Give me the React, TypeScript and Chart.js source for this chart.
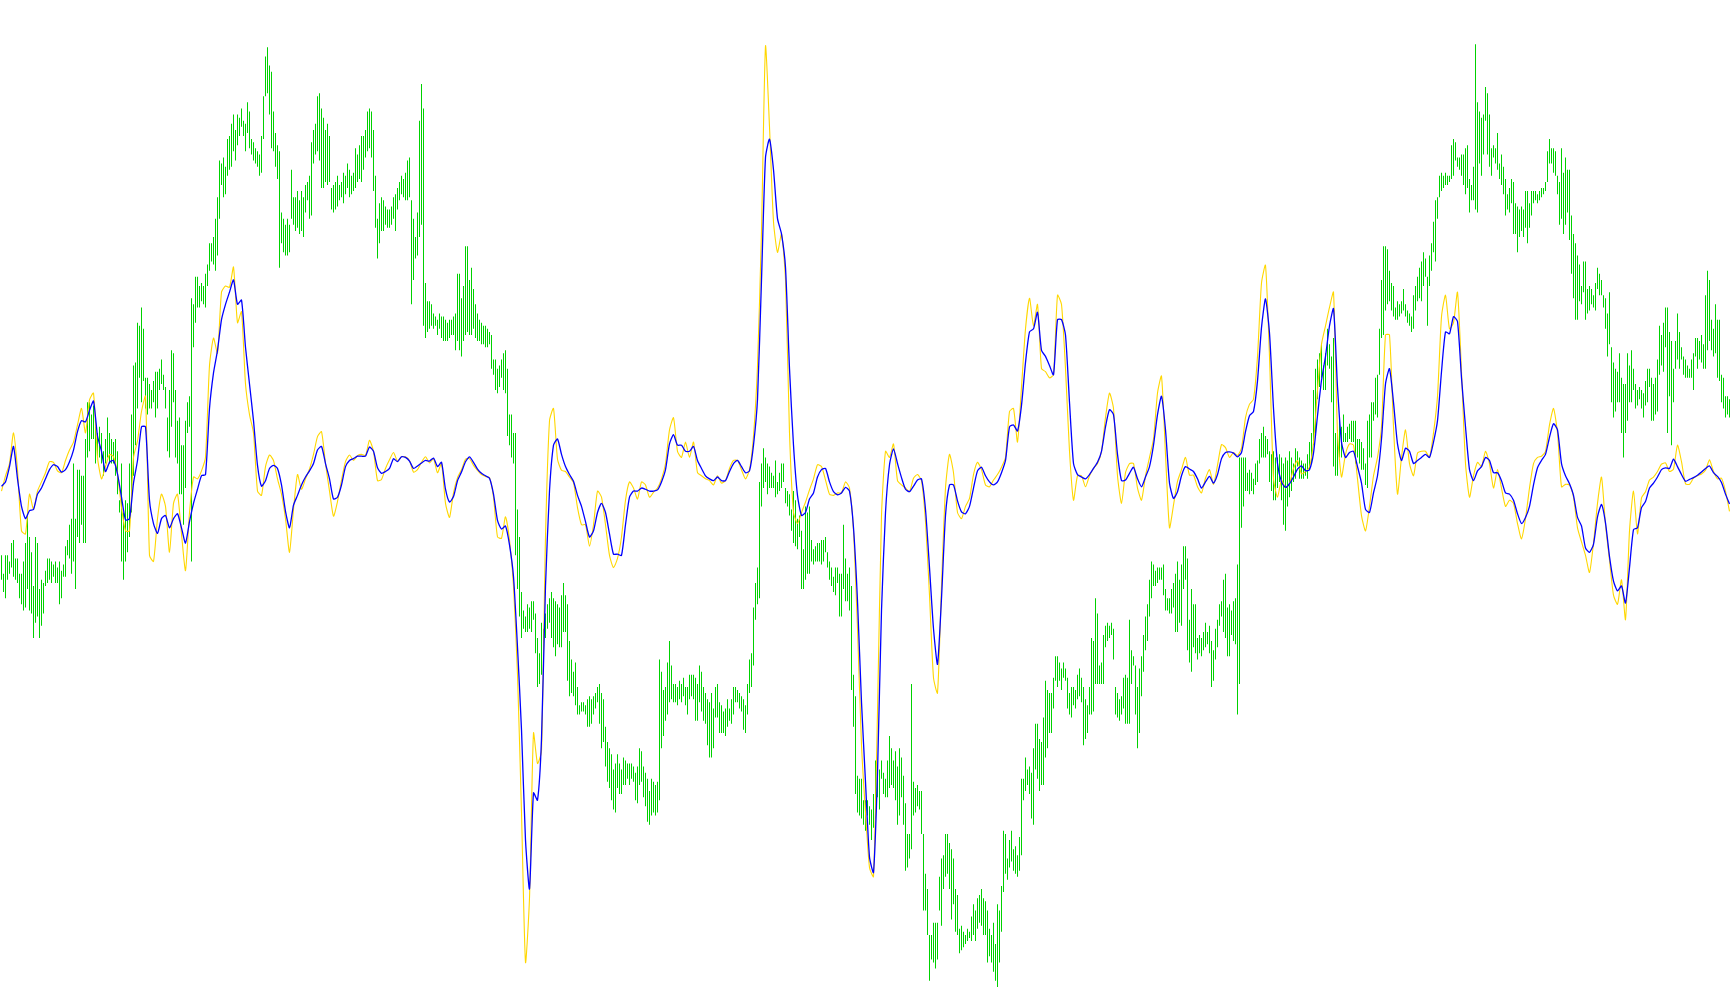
import { useEffect, useRef } from "react";
import { Chart, registerables } from "chart.js";

Chart.register(...registerables);

// Price bars: upper end (highs) and lower end (lows), in the chart's inverted price units
const highs = [
  // part 1
  850,880,850,850,860,830,825,855,855,880,
  880,860,830,785,820,845,900,820,830,905,
  890,895,875,855,855,860,865,860,870,860,
  875,865,835,825,800,790,700,790,710,710,
  720,720,660,600,600,620,605,640,650,640,
  650,680,660,625,650,660,665,660,680,760,
  700,780,760,765,700,620,540,535,470,475,
  445,480,560,560,570,580,565,550,550,545,
  530,555,575,625,580,515,520,580,630,625,
  670,670,630,600,590,430,440,
  // part 2
  395,395,410,405,410,390,375,340,340,330,
  300,265,205,210,200,215,170,165,145,130,
  155,130,135,120,140,145,110,125,170,175,
  185,190,195,165,100,35,20,50,60,125,
  160,180,190,290,300,310,300,310,220,265,
  265,255,270,255,265,245,240,230,175,155,
  145,100,95,120,135,155,145,165,250,245,
  240,230,245,240,225,230,210,220,230,225,
  185,195,180,165,165,155,125,120,125,155,
  230,300,275,265,270,280,
  // part 3
  285,285,280,265,260,250,240,230,235,225,
  205,200,270,300,330,290,140,80,120,405,
  435,435,440,455,460,465,455,460,460,465,
  470,465,465,460,455,390,390,430,410,345,
  345,400,380,415,440,455,465,470,475,475,
  480,485,490,530,530,545,540,530,520,515,
  545,620,620,650,650,775,820,910,940,950,
  930,935,925,925,945,985,1010,960,970,945,
  930,920,910,920,925,930,935,915,895,915,
  930,990,1020,1040,1025,1065,
  // part 4
  1095,1090,1090,1095,1085,1080,1085,1080,1075,1065,
  1060,1075,1085,1130,1155,1165,1175,1200,1190,1175,
  1190,1200,1180,1185,1190,1190,1190,1195,1205,1195,
  1165,1170,1195,1205,1215,1235,1215,1220,1225,1220,
  1020,1040,1070,1065,1025,990,1030,1060,1060,1065,
  1055,1060,1050,1065,1065,1045,1045,1045,1050,1060,
  1030,1040,1065,1075,1085,1090,1075,1100,1065,1060,
  1090,1095,1105,1100,1085,1100,1085,1065,1065,1070,
  1075,1080,1085,1095,1060,1020,1010,935,895,870,
  730,700,675,690,700,705,715,
  // part 5
  720,695,730,715,700,700,740,745,750,775,
  745,760,790,785,810,840,770,780,770,825,
  840,835,830,830,825,825,820,845,860,870,
  885,870,870,880,880,800,855,880,870,900,
  1045,1080,1210,1215,1215,1250,1250,1250,1260,1265,
  1240,1185,1205,1200,1185,1205,1215,1185,1145,1165,
  1185,1170,1195,1165,1180,1210,1255,1305,1305,1060,
  1220,1230,1225,1235,1235,1305,1370,1395,1470,1470,
  1450,1450,1450,1375,1345,1340,1305,1305,1320,1330,
  1345,1395,1405,1460,1455,1465,
  // part 6
  1470,1460,1465,1440,1420,1430,1410,1405,1395,1410,
  1415,1430,1460,1470,1450,1485,1420,1430,1390,1300,
  1305,1345,1315,1300,1330,1325,1340,1310,1215,1215,
  1180,1200,1195,1205,1165,1125,1125,1150,1155,1115,
  1055,1070,1075,1075,1050,1015,1015,1025,1035,1025,
  1035,1050,1075,1065,1065,1070,1045,1035,1050,1065,
  1085,1095,1065,985,990,920,945,1030,1025,980,
  965,960,965,960,970,1065,1075,1085,1080,1050,
  1045,1050,955,1005,1015,1030,1065,1035,1015,980,
  950,930,890,860,865,875,870,
  // part 7
  870,870,865,905,920,920,905,895,880,860,
  890,865,835,835,855,955,905,930,930,985,
  980,985,975,960,975,965,990,1005,970,955,
  930,925,890,880,935,930,940,925,920,865,
  690,690,690,690,715,710,715,725,700,695,
  660,650,640,655,660,680,685,680,690,690,
  685,690,700,690,695,680,690,700,675,680,
  690,695,700,700,685,665,650,580,545,530,
  520,505,540,520,480,505,525,495,650,645,
  625,640,620,650,640,635,
  // part 8
  630,630,630,660,660,665,675,700,630,620,
  600,600,560,555,480,400,345,345,350,385,
  405,410,445,435,440,435,415,440,450,455,
  460,425,410,395,380,370,355,365,395,360,
  340,305,270,265,230,225,230,225,230,230,
  180,170,175,200,200,195,195,185,180,235,
  245,215,15,110,125,135,130,85,95,130,
  185,180,185,160,210,195,215,235,260,250,
  235,240,275,280,285,280,285,255,255,275,
  255,255,255,260,255,250,250,
  // part 9
  240,190,170,185,185,190,230,240,185,225,
  200,220,220,295,325,340,360,375,410,370,
  370,415,410,415,425,405,380,390,400,425,
  430,455,420,510,535,545,550,520,560,570,
  570,520,540,515,545,570,580,575,580,585,
  565,545,545,560,570,560,530,475,490,470,
  445,445,485,500,545,500,455,485,510,525,
  530,540,545,530,520,495,495,500,490,505,
  425,385,400,465,480,440,465,465,555,560,
  590,590,595,
];

const lows = [
  // part 1
  890,910,920,890,880,870,885,890,895,920,
  930,940,935,905,940,945,985,960,950,985,
  965,945,900,895,890,895,885,895,895,930,
  920,885,885,850,855,880,860,905,820,830,
  800,830,830,690,680,660,660,700,690,690,
  700,720,700,690,700,700,700,720,750,780,
  860,890,860,845,820,780,720,670,610,560,
  600,565,610,620,610,610,600,625,610,580,
  570,580,610,680,690,640,600,690,700,750,
  750,800,740,650,640,860,510,
  // part 2
  470,445,445,435,440,445,410,385,370,375,
  385,360,300,245,265,260,230,220,215,190,
  205,180,165,150,165,190,160,185,195,205,
  210,215,230,225,170,100,95,130,185,190,
  215,235,380,340,355,360,360,355,300,310,
  320,315,325,320,330,290,270,300,295,210,
  195,190,205,250,250,240,245,240,285,290,
  285,280,270,265,275,260,250,265,260,255,
  250,240,235,240,220,200,190,185,200,255,
  315,365,340,320,320,310,
  // part 3
  315,315,310,300,320,285,270,260,265,270,
  270,265,440,400,365,360,330,310,475,495,
  485,480,475,480,475,490,480,495,500,500,
  500,495,490,490,515,500,515,525,500,490,
  485,490,490,480,495,500,500,505,505,510,
  510,505,545,555,580,585,575,560,580,585,
  655,670,690,700,850,905,950,985,970,975,
  975,970,975,955,1010,1065,1060,1045,1020,985,
  970,960,985,1000,1015,995,1000,1000,975,975,
  1055,1080,1075,1080,1095,1110,
  // part 4
  1110,1105,1105,1110,1130,1130,1125,1110,1100,1090,
  1125,1165,1155,1195,1220,1230,1250,1265,1270,1230,
  1240,1240,1225,1225,1215,1225,1215,1220,1250,1255,
  1225,1220,1245,1260,1285,1290,1275,1270,1275,1270,
  1250,1165,1145,1120,1110,1090,1085,1090,1090,1095,
  1085,1090,1080,1095,1110,1085,1080,1085,1120,1120,
  1090,1105,1120,1125,1160,1180,1180,1165,1115,1115,
  1140,1140,1140,1145,1130,1120,1125,1110,1090,1090,
  1100,1105,1135,1140,1110,1075,1065,1030,955,930,
  920,770,740,730,750,740,740,
  // part 5
  740,755,750,745,740,730,765,770,785,810,
  830,835,840,820,905,905,890,880,880,860,
  865,860,860,860,865,860,845,870,890,900,
  910,915,895,950,950,905,925,925,940,1070,
  1130,1240,1270,1275,1280,1290,1300,1275,1290,1315,
  1295,1280,1245,1265,1215,1240,1245,1245,1230,1225,
  1230,1250,1290,1275,1245,1290,1365,1360,1345,1330,
  1275,1270,1260,1265,1305,1430,1430,1470,1545,1510,
  1515,1525,1510,1430,1455,1395,1375,1370,1395,1445,
  1420,1465,1470,1500,1495,1490,
  // part 6
  1485,1480,1475,1480,1470,1480,1460,1450,1455,1470,
  1470,1515,1505,1515,1530,1545,1555,1515,1465,1400,
  1370,1380,1360,1350,1365,1370,1375,1365,1340,1250,
  1235,1225,1240,1280,1290,1200,1215,1235,1225,1225,
  1180,1165,1140,1140,1100,1055,1065,1055,1070,1050,
  1055,1100,1110,1115,1095,1100,1085,1080,1090,1160,
  1150,1140,1110,1110,1105,1060,1060,1060,1060,1060,
  1000,990,985,980,1020,1110,1115,1120,1110,1100,
  1125,1125,1125,1060,1030,1110,1165,1140,1080,1040,
  1005,990,950,920,900,900,895,
  // part 7
  890,890,915,940,940,945,945,935,975,975,
  960,965,905,890,1005,1025,1040,1000,1010,1020,
  1010,1015,1005,1000,995,1010,1065,1055,1020,1000,
  965,950,975,985,1015,1015,980,990,995,1110,
  1060,805,770,745,745,750,745,750,735,730,
  700,690,690,690,685,730,745,760,760,740,
  730,760,800,810,770,755,745,730,725,705,
  725,725,725,720,725,710,700,670,650,595,
  575,560,580,580,540,545,600,705,720,720,
  690,690,665,665,665,660,
  // part 8
  665,665,700,690,700,710,710,735,740,690,
  690,630,620,625,555,495,490,450,440,435,
  450,460,465,465,460,455,450,460,470,475,
  485,480,450,435,430,435,410,395,475,410,
  385,355,370,300,265,255,250,245,245,240,
  235,230,205,215,220,230,245,260,250,290,
  270,270,285,290,210,230,195,140,195,215,
  230,200,210,220,235,245,260,295,285,290,
  275,325,325,355,330,320,330,315,340,315,
  295,275,270,275,270,265,260,
  // part 9
  255,240,210,210,225,230,260,310,300,325,
  310,290,335,390,430,465,465,435,440,420,
  465,455,450,440,445,450,415,425,425,445,
  480,525,505,600,625,615,600,600,650,690,
  650,630,600,600,580,610,605,595,610,625,
  605,600,575,630,630,620,615,555,540,550,
  510,650,590,670,600,545,530,545,530,555,
  560,560,560,560,580,525,545,530,535,545,
  545,515,500,515,525,520,560,565,600,610,
  625,620,625,
];

// Fast oscillator (gold), one value every second bar
const fastLine = [
  745,720,700,650,710,810,815,750,775,745,
  730,715,697,698,712,715,695,678,665,637,
  610,650,596,585,690,725,705,685,689,717,
  772,810,810,690,663,615,590,850,860,790,
  750,770,845,765,750,815,875,780,722,
  725,712,690,540,495,520,420,410,412,379,
  470,452,570,620,650,745,752,705,686,695,
  725,750,790,845,775,718,742,725,709,685,
  656,648,700,745,786,762,727,697,686,695,
  687,685,687,662,680,728,726,708,
  694,682,696,689,689,695,714,710,698,689,
  699,692,715,700,765,788,748,723,710,693,
  692,703,711,718,721,723,755,820,822,787,
  825,900,1045,1270,1515,1410,1140,1190,1170,820,
  630,610,693,711,713,722,731,772,
  800,800,835,800,745,755,800,850,870,855,
  820,760,730,740,758,730,735,755,747,740,
  725,700,645,625,680,690,665,690,665,715,
  720,725,728,735,720,732,728,708,695,695,
  710,725,710,655,540,320,18,150,
  305,355,325,400,650,780,798,780,763,743,
  725,702,705,727,750,752,748,748,730,740,
  810,970,1160,1270,1360,1375,1105,785,680,690,
  668,728,735,740,746,724,718,728,795,915,
  1050,1075,900,740,685,715,780,790,
  770,757,718,698,710,735,738,727,718,706,
  690,615,610,665,575,480,430,475,440,545,
  550,560,555,425,440,545,680,760,720,720,
  738,720,708,700,680,625,585,610,720,765,
  715,700,700,740,760,720,690,660,585,
  557,685,805,768,729,710,690,719,719,738,
  748,724,710,734,703,669,674,690,682,687,
  675,625,603,595,525,405,376,525,725,755,
  727,740,733,708,695,717,713,706,665,580,
  505,475,445,420,650,722,685,668,
  670,725,785,810,770,720,690,640,490,490,
  640,750,690,645,700,720,683,680,680,690,
  650,590,460,425,480,470,420,550,700,755,
  720,698,705,680,700,740,710,740,770,760,
  765,798,823,790,740,700,690,688,
  680,637,610,650,738,734,735,755,805,828,
  850,878,830,765,722,800,858,915,930,890,
  955,810,745,815,756,746,727,722,713,701,
  699,713,709,670,697,733,734,724,720,717,
  711,694,713,725,724,745,778,
];

// Slow oscillator (blue), one value every second bar
const slowLine = [
  737,730,705,672,725,770,790,777,775,750,
  740,725,710,702,705,714,710,697,678,648,
  630,632,613,598,655,680,713,698,695,717,
  755,792,790,732,695,640,640,760,798,814,
  790,785,805,790,782,805,830,795,765,
  742,720,718,610,552,515,465,440,420,400,
  440,433,510,570,630,703,737,728,708,703,
  708,735,778,805,768,752,735,722,712,700,
  678,672,700,725,758,755,735,705,695,692,
  688,688,688,673,680,707,716,713,
  708,692,697,689,690,696,708,704,699,695,
  696,691,705,698,742,763,754,728,714,697,
  689,698,709,716,720,724,750,793,807,802,
  833,885,1000,1135,1315,1395,1238,1250,1150,900,
  745,670,660,685,705,718,729,752,
  770,795,820,810,780,765,780,815,848,848,
  850,800,755,745,745,740,742,745,745,743,
  730,710,668,653,670,670,680,680,672,695,
  708,720,725,728,722,728,728,713,700,695,
  705,715,712,670,595,400,200,170,
  220,300,325,380,545,670,752,785,780,758,
  748,722,710,708,730,746,751,748,739,745,
  805,925,1090,1220,1343,1368,1205,940,780,702,
  676,700,723,742,746,737,727,725,775,870,
  970,1028,920,785,735,735,761,779,
  782,770,740,712,706,720,730,735,730,715,
  695,640,637,647,605,535,485,480,453,515,
  525,540,555,465,465,490,600,700,718,722,
  725,718,708,698,680,640,612,620,685,728,
  727,716,706,725,738,722,705,670,620,
  590,645,732,757,746,720,705,709,713,725,
  740,730,721,732,718,692,682,681,683,689,
  682,648,622,615,565,478,431,487,610,700,
  730,739,733,722,709,704,712,710,683,622,
  564,525,475,447,575,665,690,682,
  680,705,732,775,780,748,720,660,570,545,
  600,668,695,675,680,700,695,690,685,690,
  665,630,550,485,488,460,468,560,640,710,
  728,712,705,690,695,715,715,728,748,750,
  760,782,798,788,770,735,707,695,
  685,657,635,645,700,720,733,752,788,802,
  838,845,832,787,767,797,852,892,908,900,
  928,870,808,805,772,762,740,732,722,710,
  707,708,693,705,718,729,726,723,719,714,
  708,704,715,721,731,750,766,
];

const LINE_STEP = 2; // oscillator samples every second bar

export default function App() {
  const ref = useRef<HTMLCanvasElement>(null);

  useEffect(() => {
    document.body.style.margin = "0";
    const canvas = ref.current;
    if (!canvas) return;
    const bars = highs.map((h, i) => ({ x: i, y: [lows[i], h] }));
    const fast = fastLine.map((v, k) => ({ x: k * LINE_STEP, y: v }));
    const slow = slowLine.map((v, k) => ({ x: k * LINE_STEP, y: v }));

    const chart = new Chart(canvas, {
      type: "bar",
      data: {
        datasets: [
          {
            type: "bar",
            data: bars as any,
            backgroundColor: "#00D200",
            borderWidth: 0,
            barThickness: 1,
            inflateAmount: 0,
            order: 3,
          } as any,
          {
            type: "line",
            data: fast as any,
            borderColor: "#FFD700",
            borderWidth: 1.1,
            pointRadius: 0,
            tension: 0.2,
            fill: false,
            order: 2,
          } as any,
          {
            type: "line",
            data: slow as any,
            borderColor: "#0000FF",
            borderWidth: 1.3,
            pointRadius: 0,
            tension: 0.2,
            fill: false,
            order: 1,
          } as any,
        ],
      },
      options: {
        animation: false,
        responsive: false,
        maintainAspectRatio: false,
        events: [],
        layout: { padding: 0 },
        plugins: { legend: { display: false }, tooltip: { enabled: false } },
        scales: {
          x: {
            type: "linear",
            display: false,
            offset: false,
            bounds: "ticks",
            grace: 0,
            min: -0.75,
            max: highs.length - 0.75,
          },
          y: { type: "linear", display: false, reverse: true, min: -57.2, max: 1584.5 },
        },
      } as any,
    });
    return () => chart.destroy();
  }, []);

  return (
    <div style={{ width: 1730, height: 1005, background: "#fff" }}>
      <canvas ref={ref} width={1730} height={1005} style={{ display: "block" }} />
    </div>
  );
}
